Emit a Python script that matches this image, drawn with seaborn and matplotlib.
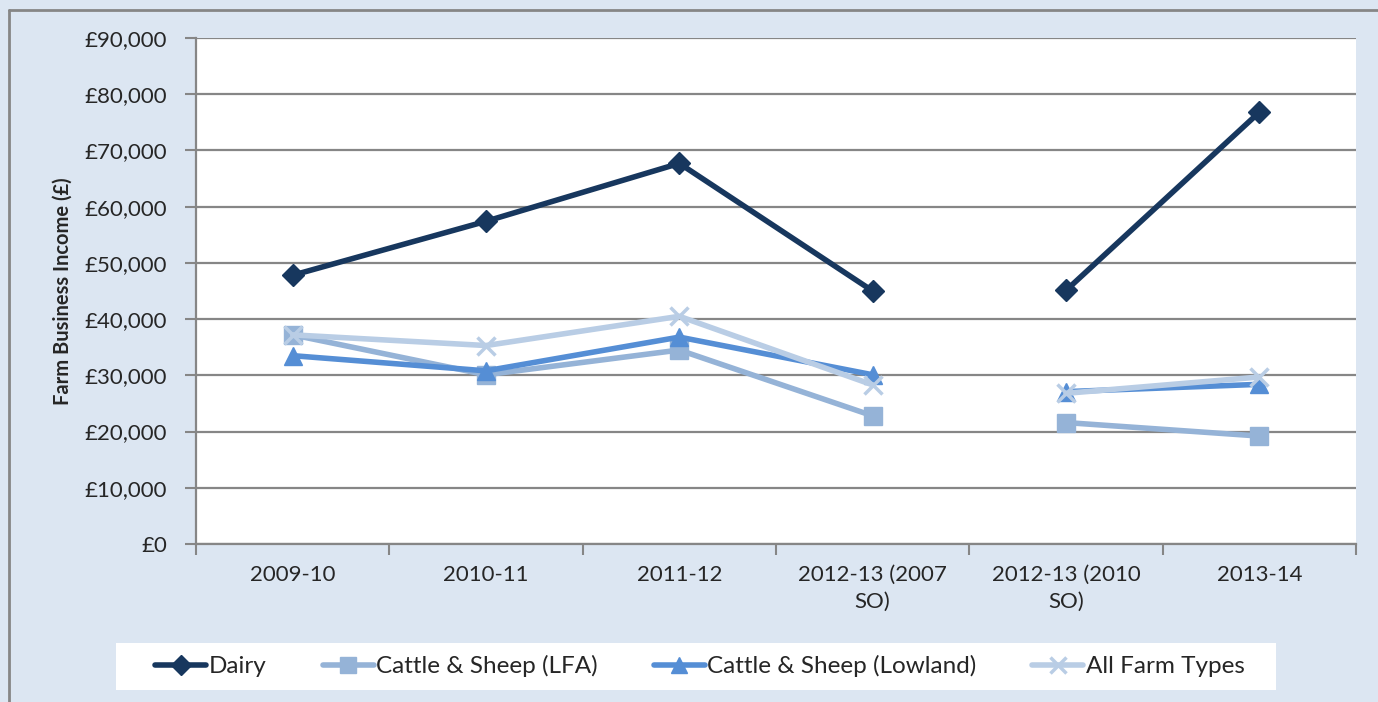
import numpy as np
import pandas as pd
import matplotlib
matplotlib.use("Agg")
import matplotlib.pyplot as plt
from matplotlib.lines import Line2D
from matplotlib.patches import Rectangle
from matplotlib.ticker import FuncFormatter
import seaborn as sns

# data
categories = ["2009-10", "2010-11", "2011-12", "2012-13 (2007\nSO)", "2012-13 (2010\nSO)", "2013-14"]
so_basis = [2007, 2007, 2007, 2007, 2010, 2010]   # line breaks where the SO basis changes
dairy = [47800, 57400, 67700, 45000, 45100, 76800]
cattle_lfa = [37200, 30100, 34500, 22800, 21600, 19200]
cattle_lowland = [33500, 30800, 36800, 30100, 27100, 28400]
all_farm_types = [37200, 35300, 40500, 28300, 26800, 29700]

series_names = ["Dairy", "Cattle & Sheep (LFA)", "Cattle & Sheep (Lowland)", "All Farm Types"]
series_values = [dairy, cattle_lfa, cattle_lowland, all_farm_types]
colors = ["#17375e", "#95b3d7", "#558ed5", "#b9cde5"]
markers = ["D", "s", "^", "x"]
marker_sizes = [11, 13, 13, 13]

rows = []
for name, vals in zip(series_names, series_values):
    for i, v in enumerate(vals):
        rows.append({"series": name, "pos": i, "segment": so_basis[i], "value": v})
df = pd.DataFrame(rows)

sns.set_style("white")
plt.rcParams["font.family"] = ["Lato", "DejaVu Sans"]

bg = "#dce6f2"
grey = "#868686"
W, H = 1378, 702
fig = plt.figure(figsize=(W / 100, H / 100), dpi=100)
fig.patch.set_facecolor(bg)
ax = fig.add_axes([196 / W, 158 / H, 1160 / W, 506 / H])
ax.set_facecolor("white")

for name, col, mk, ms in zip(series_names, colors, markers, marker_sizes):
    sub = df[df["series"] == name]
    sns.lineplot(data=sub, x="pos", y="value", units="segment", estimator=None,
                 color=col, marker=mk, markersize=ms, markeredgecolor=col,
                 markeredgewidth=2.5 if mk == "x" else 1, linewidth=4,
                 legend=False, ax=ax)

ax.set_xlim(-0.5, len(categories) - 0.5)
ax.set_ylim(0, 90000)
ax.set_yticks(np.arange(0, 90001, 10000))
ax.yaxis.set_major_formatter(FuncFormatter(lambda v, p: f"£{v:,.0f}"))
ax.yaxis.grid(True, color=grey, linewidth=1.6)
ax.set_axisbelow(True)

# category boundaries get the tick marks, labels sit in between
ax.set_xticks(np.arange(-0.5, len(categories), 1.0))
ax.set_xticklabels([])
ax.set_xticks(np.arange(len(categories)), minor=True)
ax.set_xticklabels(categories, minor=True, fontsize=16, linespacing=1.45)
ax.tick_params(axis="x", which="major", direction="out", length=8, width=1.5, color=grey, bottom=True)
ax.tick_params(axis="x", which="minor", length=0, pad=15)
ax.tick_params(axis="y", direction="out", length=8, width=1.5, color=grey, left=True, pad=13, labelsize=16)

for side in ["top", "right"]:
    ax.spines[side].set_visible(False)
for side in ["left", "bottom"]:
    ax.spines[side].set_color(grey)
    ax.spines[side].set_linewidth(1.6)

ax.set_xlabel("")
ax.set_ylabel("Farm Business Income (£)", fontsize=14.5, fontweight="bold")
ax.yaxis.set_label_coords(-0.106, 0.5)

# outer chart border
fig.add_artist(Line2D([9 / W, 9 / W], [0, 1 - 10 / H], color=grey, linewidth=2))
fig.add_artist(Line2D([9 / W, 1], [1 - 10 / H, 1 - 10 / H], color=grey, linewidth=2))

# white legend box
fig.add_artist(Rectangle((116 / W, 12 / H), 1160 / W, 47 / H, transform=fig.transFigure,
                         facecolor="white", edgecolor="none", zorder=0))

handles = [Line2D([0], [0], color=c, marker=m, markersize=s * 0.9, markeredgecolor=c,
                  markeredgewidth=2.5 if m == "x" else 1, linewidth=4)
           for c, m, s in zip(colors, markers, marker_sizes)]
leg = fig.legend(handles, series_names, loc="center", bbox_to_anchor=(700 / W, 36 / H),
                 ncol=4, fontsize=17.5, frameon=False, handlelength=2.1,
                 handletextpad=0.1, columnspacing=2.3)

fig.savefig("out.png", dpi=100, facecolor=bg)
